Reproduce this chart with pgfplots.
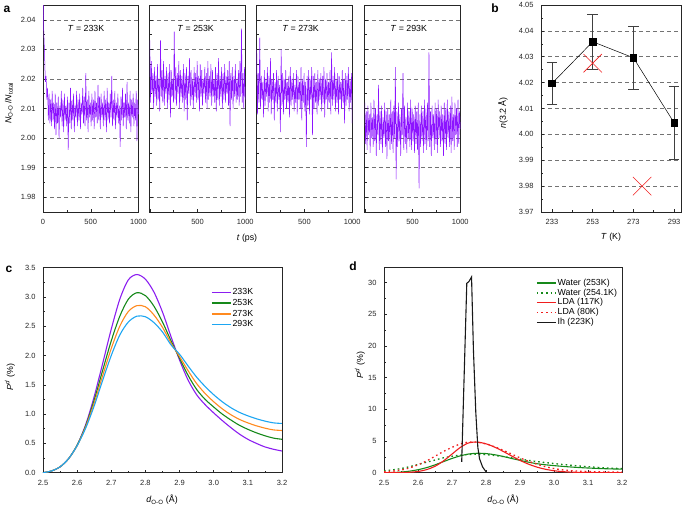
\documentclass[border=0pt]{standalone}
\usepackage{fontspec}
\setmainfont{Liberation Sans}
\usepackage{pgfplots}
\usepackage{pgfplotstable}
\pgfplotsset{compat=1.18}
\newcommand{\fs}{\fontsize{7.5}{9}\selectfont}
\newcommand{\fl}{\fontsize{8.8}{10.5}\selectfont}
\newcommand{\fp}{\fontsize{12}{14}\selectfont\bfseries}
\definecolor{avio}{HTML}{8C14FF}
\definecolor{cpur}{HTML}{8B1EF0}
\definecolor{cgreen}{HTML}{16891A}
\definecolor{corange}{HTML}{FF8A1F}
\definecolor{cblue}{HTML}{1DA6F2}
\definecolor{cred}{HTML}{F01E1E}
\pgfplotsset{
  base/.style={scale only axis, anchor=south west, tick align=inside, tick pos=left,
    axis line style={black!85, line width=0.7pt},
    tick style={black!85, line width=0.5pt},
    major tick length=3pt, minor tick length=2pt,
    every tick label/.append style={font=\fs, text=black!85},
    /pgf/number format/assume math mode=true,
    yticklabel style={xshift=-4pt}, xticklabel style={yshift=-4pt}},
  astyle/.style={base, width=95.5pt, height=207pt, xmin=0, xmax=1000, ymin=1.975, ymax=2.045,
    xtick={0,500,1000}, minor xtick={250,750},
    ytick={1.98,1.99,2.00,2.01,2.02,2.03,2.04},
    minor ytick={1.985,1.995,2.005,2.015,2.025,2.035},
    ymajorgrids, major grid style={dash pattern=on 4pt off 3pt, black!55, line width=0.5pt},
    yticklabel style={/pgf/number format/fixed, /pgf/number format/fixed zerofill, /pgf/number format/precision=2}},
  noise/.style={avio, line width=0.5pt},
  leg/.style={legend style={draw=none, fill=none, font=\fl,
    row sep=1.6pt, nodes={inner sep=0.6pt, text height=6.2pt, text depth=1.8pt}},
    legend cell align=left,
    legend image code/.code={\draw[##1, line width=1.4pt] (0pt,0pt) -- (19.5pt,0pt);}},
}
\pgfplotstableread{
x p233 p253 p273 p293
2.500 0.00 0.00 0.00 0.00
2.525 0.03 0.03 0.03 0.03
2.550 0.10 0.10 0.10 0.10
2.575 0.24 0.24 0.24 0.24
2.600 0.47 0.47 0.46 0.46
2.625 0.82 0.80 0.78 0.76
2.650 1.30 1.24 1.19 1.14
2.675 1.87 1.75 1.66 1.58
2.700 2.45 2.25 2.12 2.00
2.725 2.96 2.67 2.50 2.35
2.750 3.29 2.96 2.75 2.57
2.775 3.38 3.07 2.85 2.67
2.800 3.30 3.02 2.83 2.66
2.825 3.08 2.84 2.69 2.56
2.850 2.74 2.57 2.48 2.40
2.875 2.32 2.25 2.21 2.18
2.900 1.92 1.95 1.98 2.02
2.925 1.58 1.66 1.74 1.82
2.950 1.33 1.42 1.52 1.63
2.975 1.16 1.25 1.35 1.47
3.000 1.02 1.12 1.21 1.33
3.025 0.89 1.00 1.09 1.21
3.050 0.77 0.90 0.99 1.11
3.075 0.66 0.81 0.91 1.03
3.100 0.57 0.74 0.85 0.97
3.125 0.50 0.68 0.80 0.92
3.150 0.44 0.63 0.76 0.88
3.175 0.40 0.59 0.73 0.85
3.200 0.37 0.57 0.72 0.84
}\tabc
\pgfplotstableread{
x wd lda ldad
2.500 0.30 0.00 0.15
2.525 0.45 0.01 0.25
2.550 0.65 0.02 0.42
2.575 0.95 0.07 0.75
2.600 1.30 0.19 1.25
2.625 1.65 0.48 1.85
2.650 2.00 1.01 2.60
2.675 2.35 1.86 3.35
2.700 2.60 2.94 4.00
2.725 2.78 4.01 4.55
2.750 2.88 4.72 4.85
2.775 2.90 4.83 4.82
2.800 2.85 4.56 4.55
2.825 2.72 4.05 4.10
2.850 2.55 3.38 3.55
2.875 2.35 2.65 2.95
2.900 2.15 1.95 2.35
2.925 1.95 1.35 1.80
2.950 1.75 0.88 1.35
2.975 1.60 0.54 0.95
3.000 1.45 0.31 0.65
3.025 1.30 0.17 0.45
3.050 1.18 0.09 0.32
3.075 1.05 0.05 0.24
3.100 0.95 0.03 0.19
3.125 0.85 0.02 0.15
3.150 0.77 0.02 0.12
3.175 0.70 0.02 0.10
3.200 0.65 0.02 0.10
}\tabd
\pgfplotstableread{
T n e
233 4.0197 0.0081
253 4.0358 0.0105
273 4.0296 0.0123
293 4.0045 0.0142
}\tabb
\begin{document}
\begin{tikzpicture}
\useasboundingbox (0,0) rectangle (685pt,506pt);
% ---------- panel a ----------
\begin{axis}[astyle, at={(43pt,294pt)}, xticklabels={0,500,1000}]
\addplot[noise] table[x expr=\coordindex*8, y index=0, header=false, row sep=\\]{
2.052\\2.036\\2.029\\2.019\\2.021\\2.013\\2.017\\2.006\\2.015\\2.005\\
2.013\\2.004\\2.016\\2.006\\2.012\\2.003\\2.015\\2.001\\2.012\\2.005\\
2.014\\2.000\\2.011\\2.007\\2.016\\2.004\\2.013\\2.002\\2.015\\2.006\\
2.011\\2.004\\2.014\\1.996\\2.012\\2.005\\2.017\\2.003\\2.013\\2.006\\
2.015\\2.002\\2.011\\2.007\\2.016\\2.004\\2.013\\2.006\\2.015\\2.003\\
2.012\\2.008\\2.017\\2.005\\2.014\\2.004\\2.022\\2.006\\2.013\\2.002\\
2.016\\2.007\\2.012\\2.004\\2.015\\2.006\\2.013\\2.003\\2.016\\2.007\\
2.012\\2.005\\2.018\\2.006\\2.014\\2.003\\2.015\\2.007\\2.012\\2.004\\
2.016\\2.006\\2.013\\2.002\\2.017\\2.006\\2.012\\2.005\\2.015\\2.007\\
2.021\\2.004\\2.013\\2.006\\2.016\\2.003\\2.012\\2.007\\2.015\\2.005\\
2.011\\1.997\\2.014\\2.006\\2.017\\2.004\\2.012\\2.007\\2.015\\2.003\\
2.019\\2.006\\2.012\\2.005\\2.016\\2.002\\2.013\\2.007\\2.015\\2.004\\
2.012\\2.006\\2.016\\1.999\\2.013\\2.008\\
};
\node[font=\fl] at (rel axis cs:0.45,0.885) {\textit{T} = 233K};
\end{axis}
\begin{axis}[astyle, at={(149.8pt,294pt)}, xticklabels={{},500,1000}, yticklabels={}]
\addplot[noise] table[x expr=\coordindex*8, y index=0, header=false, row sep=\\]{
2.033\\2.012\\2.026\\2.015\\2.022\\2.010\\2.024\\2.014\\2.021\\2.011\\
2.025\\2.013\\2.020\\2.009\\2.033\\2.014\\2.023\\2.012\\2.026\\2.011\\
2.021\\2.015\\2.024\\2.010\\2.022\\2.013\\2.025\\2.007\\2.023\\2.014\\
2.020\\2.012\\2.036\\2.013\\2.024\\2.011\\2.022\\2.015\\2.026\\2.010\\
2.023\\2.014\\2.021\\2.012\\2.025\\2.009\\2.022\\2.013\\2.024\\2.006\\
2.021\\2.015\\2.027\\2.011\\2.023\\2.013\\2.020\\2.010\\2.024\\2.014\\
2.022\\2.012\\2.026\\2.013\\2.021\\2.009\\2.025\\2.014\\2.023\\2.011\\
2.020\\2.015\\2.024\\2.012\\2.022\\2.010\\2.026\\2.013\\2.021\\2.014\\
2.025\\2.011\\2.023\\2.014\\2.020\\2.012\\2.024\\2.009\\2.022\\2.013\\
2.027\\2.011\\2.021\\2.014\\2.024\\2.010\\2.022\\2.013\\2.025\\2.012\\
2.021\\2.015\\2.023\\2.011\\2.026\\2.004\\2.022\\2.013\\2.024\\2.010\\
2.021\\2.014\\2.025\\2.012\\2.020\\2.013\\2.023\\2.011\\2.026\\2.014\\
2.037\\2.012\\2.022\\2.010\\2.024\\2.013\\
};
\node[font=\fl] at (rel axis cs:0.48,0.885) {\textit{T} = 253K};
\end{axis}
\begin{axis}[astyle, at={(256.7pt,294pt)}, xticklabels={{},500,1000}, yticklabels={}]
\addplot[noise] table[x expr=\coordindex*8, y index=0, header=false, row sep=\\]{
2.030\\2.008\\2.022\\2.012\\2.034\\2.010\\2.021\\2.013\\2.019\\2.007\\
2.023\\2.011\\2.020\\2.014\\2.024\\2.009\\2.021\\2.012\\2.027\\2.008\\
2.020\\2.013\\2.022\\2.006\\2.019\\2.012\\2.023\\2.009\\2.021\\2.013\\
2.018\\2.002\\2.030\\2.011\\2.022\\2.008\\2.020\\2.013\\2.023\\2.010\\
2.019\\2.012\\2.021\\2.007\\2.024\\2.011\\2.020\\2.013\\2.022\\2.009\\
2.018\\2.012\\2.023\\2.008\\2.021\\2.013\\2.019\\2.010\\2.024\\2.006\\
2.020\\2.012\\2.022\\2.009\\2.019\\1.997\\2.021\\2.011\\2.023\\2.008\\
2.020\\2.013\\2.024\\2.001\\2.021\\2.010\\2.022\\2.012\\2.019\\2.008\\
2.023\\2.011\\2.020\\2.013\\2.022\\2.009\\2.021\\2.012\\2.024\\2.007\\
2.020\\2.013\\2.022\\2.010\\2.019\\2.012\\2.023\\2.008\\2.029\\2.011\\
2.021\\2.013\\2.024\\2.009\\2.020\\2.012\\2.022\\2.008\\2.021\\2.013\\
2.019\\2.010\\2.023\\2.012\\2.020\\2.005\\2.022\\2.011\\2.021\\2.013\\
2.024\\2.009\\2.020\\2.012\\2.022\\2.005\\
};
\node[font=\fl] at (rel axis cs:0.46,0.885) {\textit{T} = 273K};
\end{axis}
\begin{axis}[astyle, at={(364.8pt,294pt)}, xticklabels={{},500,1000}, yticklabels={}]
\addplot[noise] table[x expr=\coordindex*8, y index=0, header=false, row sep=\\]{
2.012\\1.998\\2.009\\1.996\\2.011\\2.001\\2.008\\1.995\\2.012\\2.000\\
2.007\\1.997\\2.013\\1.999\\2.010\\1.994\\2.008\\2.001\\2.018\\1.996\\
2.009\\1.998\\2.011\\1.995\\2.007\\2.000\\2.012\\1.997\\2.009\\1.993\\
2.010\\1.999\\2.008\\1.996\\2.013\\1.998\\2.009\\1.995\\2.011\\2.000\\
2.024\\1.986\\2.009\\1.997\\2.012\\1.999\\2.008\\1.994\\2.010\\2.001\\
2.022\\1.996\\2.011\\1.998\\2.007\\1.995\\2.012\\2.000\\2.009\\1.997\\
2.013\\1.996\\2.010\\1.999\\2.008\\1.995\\2.011\\1.998\\2.009\\1.996\\
2.012\\1.983\\2.008\\1.997\\2.011\\1.999\\2.009\\1.995\\2.013\\1.998\\
2.010\\1.996\\2.012\\1.999\\2.029\\1.997\\2.009\\1.994\\2.011\\2.000\\
2.008\\1.996\\2.012\\1.998\\2.010\\1.995\\2.013\\2.000\\2.009\\1.997\\
2.011\\1.999\\2.008\\1.994\\2.012\\1.998\\2.010\\1.996\\2.013\\2.000\\
2.009\\1.997\\2.011\\1.995\\2.014\\1.999\\2.008\\1.996\\2.012\\2.001\\
2.010\\1.997\\2.013\\1.998\\2.009\\2.003\\
};
\node[font=\fl] at (rel axis cs:0.46,0.885) {\textit{T} = 293K};
\end{axis}
\node[font=\fp] at (7pt,497pt) {a};
\node[font=\fl, rotate=90] at (9pt,403pt) {\textit{N}\textsubscript{O-O}\,/\textit{N}\textsubscript{total}};
\node[font=\fl] at (247pt,268pt) {\textit{t} (ps)};
% ---------- panel b ----------
\begin{axis}[base, at={(541pt,294pt)}, width=140pt, height=207pt,
  xmin=227.6, xmax=296.4, ymin=3.97, ymax=4.05,
  xtick={233,253,273,293}, minor xtick={243,263,283},
  ytick={3.97,3.98,3.99,4.00,4.01,4.02,4.03,4.04,4.05},
  minor ytick={3.975,3.985,3.995,4.005,4.015,4.025,4.035,4.045},
  xticklabels={233,253,273,293},
  yticklabel style={/pgf/number format/fixed, /pgf/number format/fixed zerofill, /pgf/number format/precision=2},
  ymajorgrids, major grid style={dash pattern=on 4pt off 3pt, black!55, line width=0.5pt}]
\addplot[black, line width=0.5pt, mark=square*, mark size=3.3pt,
  error bars/.cd, y dir=both, y explicit,
  error bar style={line width=0.6pt, black!75},
  error mark options={rotate=90, mark size=5.3pt, line width=0.6pt, black!75}]
  table[x=T, y=n, y error=e]{\tabb};
\addplot[only marks, mark=x, mark size=13pt, cred, line width=0.6pt] coordinates {(253,4.0275) (277.3,3.98)};
\end{axis}
\node[font=\fp] at (495pt,498pt) {b};
\node[font=\fl, rotate=90] at (503pt,393pt) {\textit{n}(3.2 Å)};
\node[font=\fl] at (611pt,269pt) {\textit{T} (K)};
% ---------- panel c ----------
\begin{axis}[base, leg, at={(43pt,33.3pt)}, width=239pt, height=205.2pt,
  xmin=2.5, xmax=3.2, ymin=0, ymax=3.5,
  xtick={2.5,2.6,2.7,2.8,2.9,3.0,3.1,3.2}, ytick={0,0.5,1,1.5,2,2.5,3,3.5},
  minor tick num=1,
  xticklabel style={/pgf/number format/fixed, /pgf/number format/fixed zerofill, /pgf/number format/precision=1},
  yticklabel style={/pgf/number format/fixed, /pgf/number format/fixed zerofill, /pgf/number format/precision=1},
  legend style={at={(0.69,0.912)}, anchor=north west}]
\addplot[cpur, line width=1.1pt, smooth] table[x=x, y=p233]{\tabc};
\addlegendentry{233K}
\addplot[cgreen, line width=1.1pt, smooth] table[x=x, y=p253]{\tabc};
\addlegendentry{253K}
\addplot[corange, line width=1.1pt, smooth] table[x=x, y=p273]{\tabc};
\addlegendentry{273K}
\addplot[cblue, line width=1.1pt, smooth] table[x=x, y=p293]{\tabc};
\addlegendentry{293K}
\end{axis}
\node[font=\fp] at (9pt,237pt) {c};
\node[font=\fl, rotate=90] at (10pt,129pt) {\textit{P}\textsuperscript{\textit{d}} (\%)};
\node[font=\fl] at (162pt,6pt) {\textit{d}\textsubscript{O-O} (Å)};
% ---------- panel d ----------
\begin{axis}[base, leg, at={(384pt,33.3pt)}, width=238pt, height=205.2pt,
  xmin=2.5, xmax=3.2, ymin=0, ymax=32.4,
  xtick={2.5,2.6,2.7,2.8,2.9,3.0,3.1,3.2}, ytick={0,5,10,15,20,25,30},
  minor tick num=1,
  xticklabel style={/pgf/number format/fixed, /pgf/number format/fixed zerofill, /pgf/number format/precision=1},
  legend style={at={(0.626,0.958)}, anchor=north west, row sep=0.7pt}]
\addplot[cgreen, line width=1.1pt, smooth] table[x=x, y=p253]{\tabc};
\addlegendentry{Water (253K)}
\addplot[cgreen, line width=1.3pt, dash pattern=on 1.6pt off 3pt, smooth] table[x=x, y=wd]{\tabd};
\addlegendentry{Water (254.1K)}
\addplot[cred, line width=1.1pt, smooth] table[x=x, y=lda]{\tabd};
\addlegendentry{LDA (117K)}
\addplot[cred, line width=1.3pt, dash pattern=on 1.6pt off 3pt, smooth] table[x=x, y=ldad]{\tabd};
\addlegendentry{LDA (80K)}
\addplot[black!90, line width=1.1pt] coordinates {(2.7285,1.7) (2.7435,29.9) (2.750,30.2) (2.7575,30.9) (2.763,19.4) (2.770,9.5) (2.776,4.0) (2.781,2.2) (2.790,0.9) (2.800,0.15)};
\addlegendentry{Ih (223K)}
\end{axis}
\node[font=\fp] at (353pt,240pt) {d};
\node[font=\fl, rotate=90] at (360pt,141pt) {\textit{P}\textsuperscript{\textit{d}} (\%)};
\node[font=\fl] at (503pt,6pt) {\textit{d}\textsubscript{O-O} (Å)};
\end{tikzpicture}
\end{document}
